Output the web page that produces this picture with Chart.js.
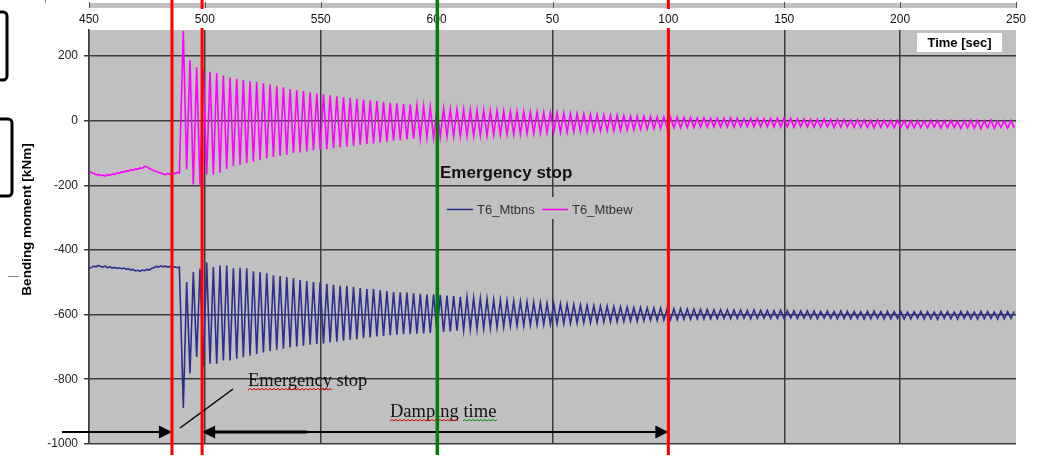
<!DOCTYPE html>
<html>
<head>
<meta charset="utf-8">
<script src="https://cdn.jsdelivr.net/npm/chart.js@4.4.1/dist/chart.umd.min.js"></script>
<style>
  html, body { margin: 0; padding: 0; background: #fff; }
  canvas { display: block; }
</style>
</head>
<body>
<canvas id="chart" width="1037" height="457"></canvas>
<script>
// ---- data ----
const xTickLabels = ['450', '500', '550', '600', '50', '100', '150', '200', '250'];

// before the stop: one sample per second
const preTime = [450, 451, 452, 453, 454, 455, 456, 457, 458, 459,
                 460, 461, 462, 463, 464, 465, 466, 467, 468, 469,
                 470, 471, 472, 473, 474, 475, 476, 477, 478, 479,
                 480, 481, 482, 483, 484, 485, 486, 487, 488, 489];
const preMtbns = [-458, -454, -450, -452, -448, -451, -453, -450, -455, -452,
                  -456, -454, -457, -455, -458, -456, -460, -458, -462, -460,
                  -465, -463, -466, -462, -464, -460, -462, -457, -455, -451,
                  -453, -449, -452, -450, -453, -451, -454, -452, -455, -453];
const preMtbew = [-156, -160, -163, -167, -166, -170, -168, -171, -167, -169,
                  -165, -166, -161, -163, -158, -159, -155, -156, -152, -153,
                  -149, -150, -146, -147, -141, -143, -148, -151, -155, -156,
                  -160, -162, -165, -167, -163, -166, -161, -164, -160, -162];

// after the stop: one peak and one trough per swing
const firstPeakTime = 490.7;
const halfPeriod = 1.44;

const mtbewHi = [278, 188, 166, 160, 152, 148, 140, 135, 130, 126,
                 122, 120, 116, 112, 108, 104, 98, 95, 92, 88,
                 84, 82, 79, 76, 73, 71, 68, 66, 63, 61,
                 58, 56, 54, 52, 50, 47, 45, 43, 40, 38,
                 37, 36, 35, 34, 33, 32, 31, 31, 30, 29,
                 29, 28, 27, 27, 26, 26, 25, 24, 23, 22,
                 21, 20, 19, 18, 17, 17, 16, 15, 14, 14,
                 13, 12, 12, 11, 11, 10, 10, 9, 9, 8,
                 8, 8, 9, 8, 7, 8, 8, 7, 8, 8,
                 8, 7, 6, 6, 5, 5, 6, 4, 5, 4,
                 3, 4, 3, 2, 3, 2, 1, 2, 1, 0,
                 1, 0, 1, 2, 0, 1, -1, 0, 2, 1,
                 0, 3, -1, 0, 1];
const mtbewLo = [-151, -197, -200, -166, -166, -161, -150, -140, -137, -131,
                 -127, -122, -116, -112, -109, -105, -100, -98, -95, -92,
                 -90, -88, -85, -82, -80, -78, -75, -72, -70, -68,
                 -65, -62, -60, -58, -56, -55, -52, -54, -50, -49,
                 -48, -48, -47, -47, -46, -46, -45, -44, -43, -42,
                 -41, -40, -39, -38, -37, -36, -36, -35, -34, -33,
                 -33, -32, -32, -31, -31, -30, -29, -28, -27, -26,
                 -25, -24, -23, -22, -22, -21, -21, -20, -20, -19,
                 -19, -19, -20, -19, -18, -19, -19, -18, -19, -19,
                 -19, -20, -18, -19, -20, -20, -19, -21, -20, -19,
                 -20, -21, -20, -22, -21, -20, -22, -21, -23, -22,
                 -21, -22, -20, -23, -22, -21, -24, -22, -23, -25,
                 -22, -24, -21, -23, -22];
const mtbnsLo = [-889, -782, -731, -761, -752, -752, -742, -742, -737, -732,
                 -727, -722, -717, -713, -709, -706, -702, -699, -696, -693,
                 -691, -689, -686, -684, -681, -678, -676, -673, -671, -668,
                 -666, -664, -662, -661, -660, -659, -658, -657, -656, -654,
                 -652, -650, -648, -646, -645, -643, -642, -640, -638, -636,
                 -635, -634, -633, -632, -631, -630, -629, -628, -627, -626,
                 -625, -625, -624, -623, -623, -622, -621, -620, -620, -619,
                 -618, -618, -617, -616, -616, -615, -615, -614, -614, -613,
                 -613, -612, -613, -612, -612, -613, -612, -611, -612, -612,
                 -612, -611, -612, -611, -612, -613, -611, -612, -613, -612,
                 -613, -612, -614, -613, -612, -614, -613, -612, -614, -613,
                 -612, -614, -613, -615, -612, -613, -614, -612, -613, -614,
                 -613, -612, -614, -613, -612];
const mtbnsHi = [-499, -468, -458, -438, -453, -448, -448, -457, -455, -457,
                 -466, -469, -472, -478, -481, -484, -487, -493, -496, -499,
                 -499, -505, -508, -511, -511, -514, -518, -521, -521, -524,
                 -527, -530, -531, -532, -534, -536, -537, -537, -539, -541,
                 -543, -545, -546, -548, -550, -552, -554, -555, -557, -558,
                 -559, -561, -562, -563, -565, -566, -567, -568, -569, -570,
                 -571, -572, -573, -574, -575, -576, -577, -578, -578, -579,
                 -580, -580, -581, -582, -582, -583, -583, -584, -584, -585,
                 -585, -585, -586, -586, -587, -586, -587, -587, -588, -587,
                 -588, -588, -589, -588, -589, -590, -589, -590, -589, -590,
                 -590, -591, -590, -589, -591, -590, -591, -590, -592, -591,
                 -590, -591, -592, -590, -591, -592, -590, -591, -592, -590,
                 -591, -592, -590, -591, -590];

// marker lines (time)
const redLines = [485.8, 498.8, 700];
const greenLine = 600.3;

const NAVY = '#2e2e8f';
const MAGENTA = '#ff00ff';
const GRID = '#3c3c3c';

function buildSeries(preVals, first, second) {
    const pts = preTime.map((t, i) => ({ x: t, y: preVals[i] }));
    first.forEach((v, i) => {
        const t = firstPeakTime + i * 2 * halfPeriod;
        pts.push({ x: t, y: v }, { x: t + halfPeriod, y: second[i] });
    });
    return pts;
}

function squiggle(ctx, x0, x1, y, color) {
    ctx.strokeStyle = color;
    ctx.lineWidth = 1;
    ctx.beginPath();
    ctx.moveTo(x0, y);
    let up = true;
    for (let x = x0 + 2; x <= x1; x += 2) {
        ctx.lineTo(x, up ? y - 1.5 : y);
        up = !up;
    }
    ctx.stroke();
}

function arrowHead(ctx, tipX, y, dir) {
    ctx.beginPath();
    ctx.moveTo(tipX, y);
    ctx.lineTo(tipX - dir * 13, y - 6.5);
    ctx.lineTo(tipX - dir * 13, y + 6.5);
    ctx.closePath();
    ctx.fill();
}

const decor = {
    id: 'decor',
    beforeDraw(chart) {
        const { ctx, chartArea: a, scales: { x } } = chart;
        ctx.save();
        ctx.fillStyle = '#fff';
        ctx.fillRect(0, 0, chart.width, chart.height);
        ctx.fillStyle = '#c0c0c0';
        ctx.fillRect(a.left, a.top, a.right - a.left, a.bottom - a.top);

        // strip of another chart cut off at the top
        ctx.fillRect(a.left, 3, a.right - a.left, 5);
        ctx.strokeStyle = '#555';
        ctx.lineWidth = 1;
        x.ticks.forEach(t => {
            const px = Math.round(x.getPixelForValue(t.value)) + 0.5;
            ctx.beginPath(); ctx.moveTo(px, 2); ctx.lineTo(px, 8); ctx.stroke();
        });
        ctx.strokeStyle = '#888';
        ctx.beginPath(); ctx.moveTo(45.5, 0); ctx.lineTo(45.5, 3); ctx.stroke();

        // cropped boxes on the left edge
        ctx.strokeStyle = '#000';
        ctx.lineWidth = 3;
        ctx.beginPath(); ctx.roundRect(-10, 12, 17, 68, 4); ctx.stroke();
        ctx.beginPath(); ctx.roundRect(-10, 119, 22, 77, 4); ctx.stroke();
        ctx.strokeStyle = '#888';
        ctx.lineWidth = 1;
        ctx.beginPath(); ctx.moveTo(8, 276.5); ctx.lineTo(19, 276.5); ctx.stroke();

        // y axis title
        ctx.translate(27.5, 219.5);
        ctx.rotate(-Math.PI / 2);
        ctx.fillStyle = '#000';
        ctx.font = "bold 13.5px 'Liberation Sans', Arial, sans-serif";
        ctx.textAlign = 'center';
        ctx.textBaseline = 'middle';
        ctx.fillText('Bending moment [kNm]', 0, 0);
        ctx.restore();
    },
    afterDraw(chart) {
        const { ctx, scales: { x } } = chart;
        ctx.save();

        // legend
        ctx.fillStyle = '#c0c0c0';
        ctx.fillRect(441, 197, 200, 22);
        ctx.font = "13px 'Liberation Sans', Arial, sans-serif";
        ctx.textBaseline = 'middle';
        ctx.textAlign = 'left';
        [[NAVY, 'T6_Mtbns', 447], [MAGENTA, 'T6_Mtbew', 542]].forEach(([c, label, lx]) => {
            ctx.strokeStyle = c;
            ctx.lineWidth = 1.5;
            ctx.beginPath(); ctx.moveTo(lx, 209.5); ctx.lineTo(lx + 26, 209.5); ctx.stroke();
            ctx.fillStyle = '#333';
            ctx.fillText(label, lx + 30, 210);
        });

        // bold chart note
        ctx.fillStyle = '#111';
        ctx.font = "bold 17px 'Liberation Sans', Arial, sans-serif";
        ctx.textBaseline = 'alphabetic';
        ctx.fillText('Emergency stop', 440, 178);

        // axis title box
        ctx.fillStyle = '#fff';
        ctx.fillRect(917, 33, 85, 19);
        ctx.fillStyle = '#000';
        ctx.font = "bold 13px 'Liberation Sans', Arial, sans-serif";
        ctx.textAlign = 'center';
        ctx.textBaseline = 'middle';
        ctx.fillText('Time [sec]', 959.5, 43);

        // word-processor annotations
        ctx.textAlign = 'left';
        ctx.textBaseline = 'alphabetic';
        ctx.fillStyle = '#111';
        ctx.font = "18.5px 'Liberation Serif', 'Times New Roman', serif";
        ctx.fillText('Emergency stop', 248, 386);
        ctx.fillText('Damping time', 390, 417);
        squiggle(ctx, 248, 332, 390, '#e00000');
        squiggle(ctx, 390, 458, 421, '#e00000');
        squiggle(ctx, 463, 498, 421, '#009000');

        ctx.strokeStyle = '#000';
        ctx.lineWidth = 1.5;
        ctx.beginPath(); ctx.moveTo(180, 428); ctx.lineTo(233, 389); ctx.stroke();

        const xa = x.getPixelForValue(redLines[0]);
        const xb = x.getPixelForValue(redLines[1]);
        const xc = x.getPixelForValue(redLines[2]);
        const ay = 432;
        ctx.fillStyle = '#000';
        ctx.lineWidth = 2;
        ctx.beginPath(); ctx.moveTo(62, ay); ctx.lineTo(xa - 10, ay); ctx.stroke();
        arrowHead(ctx, xa, ay, 1);
        ctx.beginPath(); ctx.moveTo(xb + 10, ay); ctx.lineTo(xc - 10, ay); ctx.stroke();
        ctx.lineWidth = 3;
        ctx.beginPath(); ctx.moveTo(xb + 10, ay); ctx.lineTo(307, ay); ctx.stroke();
        arrowHead(ctx, xb, ay, -1);
        arrowHead(ctx, xc, ay, 1);

        // marker lines; red ones pass behind the tick labels
        const tickPx = x.ticks.map(t => x.getPixelForValue(t.value));
        ctx.strokeStyle = '#ff0000';
        ctx.lineWidth = 3;
        redLines.forEach(v => {
            const px = x.getPixelForValue(v);
            ctx.beginPath();
            if (tickPx.some(tp => Math.abs(tp - px) < 14)) {
                ctx.moveTo(px, 0); ctx.lineTo(px, 9);
                ctx.moveTo(px, 28); ctx.lineTo(px, 455);
            } else {
                ctx.moveTo(px, 0); ctx.lineTo(px, 455);
            }
            ctx.stroke();
        });
        const gx = x.getPixelForValue(greenLine);
        ctx.strokeStyle = '#008000';
        ctx.lineWidth = 3.5;
        ctx.beginPath(); ctx.moveTo(gx, 0); ctx.lineTo(gx, 455); ctx.stroke();

        ctx.restore();
    }
};

Chart.defaults.font.family = "'Liberation Sans', Arial, sans-serif";

new Chart(document.getElementById('chart'), {
    type: 'line',
    data: {
        datasets: [
            {
                label: 'T6_Mtbns',
                data: buildSeries(preMtbns, mtbnsLo, mtbnsHi),
                borderColor: NAVY,
                borderWidth: 1.6,
                pointRadius: 0,
                tension: 0
            },
            {
                label: 'T6_Mtbew',
                data: buildSeries(preMtbew, mtbewHi, mtbewLo),
                borderColor: MAGENTA,
                borderWidth: 1.6,
                pointRadius: 0,
                tension: 0
            }
        ]
    },
    options: {
        responsive: false,
        animation: false,
        events: [],
        layout: { padding: { left: 0, top: 0, right: 21, bottom: 6 } },
        plugins: {
            legend: { display: false },
            tooltip: { enabled: false }
        },
        scales: {
            x: {
                type: 'linear',
                position: 'top',
                min: 450,
                max: 850,
                afterFit: s => { s.height = 30; },
                ticks: {
                    stepSize: 50,
                    padding: 3,
                    autoSkip: false,
                    maxRotation: 0,
                    color: '#111',
                    font: { size: 12 },
                    callback: (v, i) => xTickLabels[i]
                },
                grid: {
                    drawTicks: false,
                    lineWidth: 1.5,
                    color: c => (c.tick && c.tick.value === 850) ? 'rgba(0,0,0,0)' : GRID
                },
                border: { display: false }
            },
            y: {
                min: -1000,
                max: 281,
                afterFit: s => { s.width = 89; },
                afterBuildTicks: s => { s.ticks = s.ticks.filter(t => t.value % 200 === 0); },
                ticks: {
                    stepSize: 200,
                    padding: 6,
                    color: '#222',
                    font: { size: 12 },
                    callback: v => String(v)
                },
                grid: { tickLength: 5, lineWidth: 1.5, color: GRID },
                border: { display: true, color: GRID, width: 1.5 }
            }
        }
    },
    plugins: [decor]
});
</script>
</body>
</html>
